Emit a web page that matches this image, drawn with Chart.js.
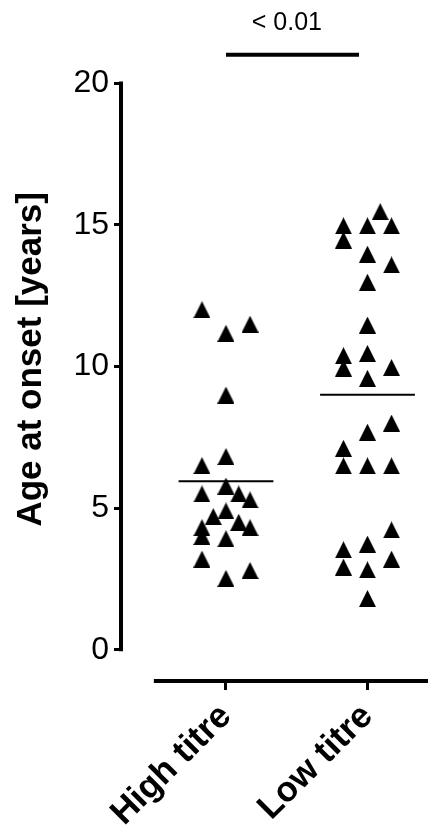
<!DOCTYPE html>
<html>
<head>
<meta charset="utf-8">
<script src="https://cdn.jsdelivr.net/npm/chart.js@4.4.1/dist/chart.umd.min.js"></script>
<style>
  html, body { margin: 0; padding: 0; background: #fff; }
  #wrap { width: 428px; height: 833px; position: relative; }
</style>
</head>
<body>
<div id="wrap"><canvas id="chart"></canvas></div>
<script>
// ── Data ──
const categories = ['High titre', 'Low titre'];
const yTicks     = [0, 5, 10, 15, 20];

// Age at onset per patient, with horizontal jitter offset (in category units)
const highTitre  = [12.0, 11.17, 11.49, 8.99, 6.82, 6.5, 5.78, 5.5, 5.5, 5.29, 4.9, 4.7, 4.5, 4.31, 4.31, 4.0, 3.92, 3.2, 2.8, 2.52];
const highJitter = [-0.17, 0, 0.17, 0, 0, -0.17, 0, -0.17, 0.09, 0.17, 0, -0.09, 0.09, 0.17, -0.17, -0.17, 0, -0.17, 0.17, 0];
const lowTitre   = [15.46, 14.96, 14.96, 14.96, 14.46, 13.96, 13.58, 12.97, 11.46, 10.38, 10.46, 9.94, 9.96, 9.58, 8.0, 7.68, 7.11, 6.49, 6.49, 6.49, 4.23, 3.73, 3.53, 3.2, 2.92, 2.82, 1.81];
const lowJitter  = [0.09, -0.17, 0, 0.17, -0.17, 0, 0.17, 0, 0, -0.17, 0, -0.17, 0.17, 0, 0.17, 0, -0.17, -0.17, 0, 0.17, 0.17, 0, -0.17, 0.17, -0.17, 0, 0];
const groupMeans = [5.95, 9.0];

// significance bracket
const pLabel   = '< 0.01';
const sigLevel = 21.0;
const sigFrom  = 1;
const sigTo    = 1.94;

const FONT = '"Liberation Sans", Arial, Helvetica, sans-serif';

// ── Helpers ──
function makeTriangle(w, h) {
  const c = document.createElement('canvas');
  c.width = w; c.height = h;
  const g = c.getContext('2d');
  g.fillStyle = '#000';
  g.beginPath();
  g.moveTo(w / 2, 0);
  g.lineTo(w, h);
  g.lineTo(0, h);
  g.closePath();
  g.fill();
  return c;
}
const tri = makeTriangle(17, 17);

const toPoints = (vals, jit, cat) => vals.map((v, i) => ({ x: cat + jit[i], y: v }));
const meanLine = (cat, m) => [{ x: cat - 0.335, y: m }, { x: cat + 0.335, y: m }];

// ── Axes + annotations drawn on top of Chart.js scales ──
const axesPlugin = {
  id: 'prismAxes',
  afterDraw(chart) {
    const { ctx, chartArea, scales: { x, y } } = chart;
    ctx.save();
    ctx.strokeStyle = '#000';
    ctx.lineCap = 'butt';

    // y axis line (0 → 20)
    ctx.lineWidth = 4;
    ctx.beginPath();
    ctx.moveTo(chartArea.left, y.getPixelForValue(yTicks[0]) + 1.5);
    ctx.lineTo(chartArea.left, y.getPixelForValue(yTicks[yTicks.length - 1]) - 1.5);
    ctx.stroke();

    // x axis line (offset from y axis)
    ctx.beginPath();
    ctx.moveTo(x.getPixelForValue(0.49), chartArea.bottom);
    ctx.lineTo(chartArea.right, chartArea.bottom);
    ctx.stroke();

    // y title
    ctx.fillStyle = '#000';
    ctx.font = 'bold 35px ' + FONT;
    ctx.textAlign = 'center';
    ctx.textBaseline = 'middle';
    ctx.translate(31, y.getPixelForValue(10.25));
    ctx.rotate(-Math.PI / 2);
    ctx.fillText('Age at onset [years]', 0, 0);
    ctx.setTransform(1, 0, 0, 1, 0, 0);

    // p value
    ctx.font = '25px ' + FONT;
    ctx.textAlign = 'center';
    ctx.textBaseline = 'middle';
    ctx.fillText(pLabel, x.getPixelForValue(1.43), y.getPixelForValue(22.1));
    ctx.restore();
  }
};

// ── Chart ──
new Chart(document.getElementById('chart'), {
  type: 'scatter',
  data: {
    datasets: [
      { data: toPoints(highTitre, highJitter, 1), pointStyle: tri, pointRadius: 8.5, pointHoverRadius: 8.5 },
      { data: toPoints(lowTitre, lowJitter, 2),   pointStyle: tri, pointRadius: 8.5, pointHoverRadius: 8.5 },
      { data: meanLine(1, groupMeans[0]), showLine: true, borderColor: '#000', borderWidth: 2, pointRadius: 0 },
      { data: meanLine(2, groupMeans[1]), showLine: true, borderColor: '#000', borderWidth: 2, pointRadius: 0 },
      {
        data: [{ x: sigFrom, y: sigLevel }, { x: sigTo, y: sigLevel }],
        showLine: true, borderColor: '#000', borderWidth: 4, clip: false,
        pointStyle: 'line', rotation: 90, pointRadius: 6, pointBorderWidth: 4,
        pointBorderColor: '#000', pointBackgroundColor: '#000'
      }
    ]
  },
  plugins: [axesPlugin],
  options: {
    responsive: true,
    maintainAspectRatio: false,
    animation: false,
    events: [],
    layout: { autoPadding: false, padding: { top: 83, left: 0, right: 0, bottom: 0 } },
    plugins: { legend: { display: false }, tooltip: { enabled: false } },
    scales: {
      x: {
        type: 'linear',
        min: 0.258, max: 2.4276,
        afterBuildTicks: s => { s.ticks = categories.map((c, i) => ({ value: i + 1 })); },
        afterFit: s => { s.height = 152; s.paddingLeft = 0; s.paddingRight = 0; },
        border: { display: false },
        grid: { drawOnChartArea: false, drawTicks: true, tickLength: 9, lineWidth: 3, color: '#000' },
        ticks: {
          autoSkip: false, maxRotation: 45, minRotation: 45, padding: 6,
          color: '#000', font: { family: FONT, size: 35, weight: 'bold' },
          callback: v => categories[v - 1] || ''
        }
      },
      y: {
        min: -1.1, max: 20,
        afterBuildTicks: s => { s.ticks = yTicks.map(v => ({ value: v })); },
        afterFit: s => { s.width = 121; s.paddingTop = 0; s.paddingBottom = 0; },
        border: { display: false },
        grid: { drawOnChartArea: false, drawTicks: true, tickLength: 7, lineWidth: 3, color: '#000' },
        ticks: { padding: 5, color: '#000', font: { family: FONT, size: 32 } }
      }
    }
  }
});
</script>
</body>
</html>
